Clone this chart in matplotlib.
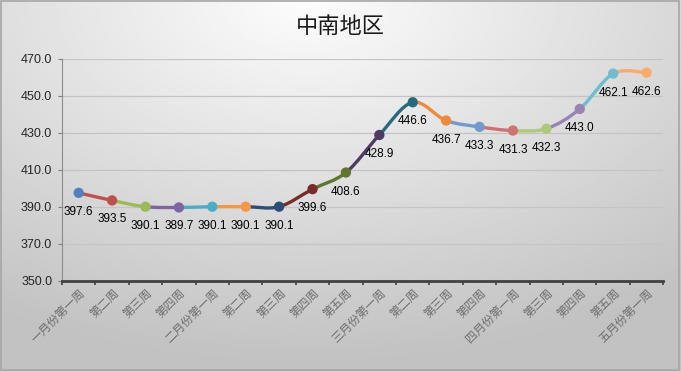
import numpy as np
import matplotlib.pyplot as plt
from matplotlib.path import Path
from matplotlib.patches import PathPatch, Rectangle

plt.rcParams['font.family'] = ['Noto Sans CJK SC', 'DejaVu Sans']

weeks = ['一月份第一周', '第二周', '第三周', '第四周', '二月份第一周', '第二周', '第三周',
         '第四周', '第五周', '三月份第一周', '第二周', '第三周', '第四周', '四月份第一周',
         '第三周', '第四周', '第五周', '五月份第一周']
values = [397.6, 393.5, 390.1, 389.7, 390.1, 390.1, 390.1, 399.6, 408.6, 428.9,
          446.6, 436.7, 433.3, 431.3, 432.3, 443.0, 462.1, 462.6]
point_colors = ['#4F81BD', '#C0504D', '#9BBB59', '#8064A2', '#4BACC6', '#F79646',
                '#2C4D75', '#772C2A', '#5F7530', '#4D3B62', '#276A7C', '#EE8A3C',
                '#729ACA', '#CD7371', '#AFC97A', '#9983B5', '#6FBDD1', '#F9AB6B']

fig = plt.figure(figsize=(6.81, 3.71), dpi=100)

# gradient background like the Excel chart area
bg = fig.add_axes([0, 0, 1, 1], zorder=-10)
gx, gy = np.meshgrid(np.linspace(0, 1, 300), np.linspace(0, 1, 200))
d = np.sqrt(((gx - 0.45) * 1.0) ** 2 + ((gy - 0.0) * 0.9) ** 2)
shade = np.clip(0.99 - 0.26 * d, 0.76, 1.0)
bg.imshow(shade, cmap='gray', vmin=0, vmax=1, extent=[0, 1, 0, 1],
          aspect='auto', origin='upper')
bg.add_patch(Rectangle((0.002, 0.003), 0.995, 0.993, fill=False,
                       ec='#A6A6A6', lw=1.2))
bg.set_xlim(0, 1)
bg.set_ylim(0, 1)
bg.axis('off')

ax = fig.add_axes([0.091, 0.243, 0.883, 0.598])
ax.patch.set_alpha(0)

x = np.arange(len(values))
y = np.array(values)

# smoothed segments (Catmull-Rom style bezier), each in the colour of its end point
for i in range(len(x) - 1):
    p0 = np.array([x[i], y[i]])
    p1 = np.array([x[i + 1], y[i + 1]])
    prev = np.array([x[i - 1], y[i - 1]]) if i > 0 else p0
    nxt = np.array([x[i + 2], y[i + 2]]) if i + 2 < len(x) else p1
    c1 = p0 + (p1 - prev) / 6
    c2 = p1 - (nxt - p0) / 6
    path = Path([p0, c1, c2, p1], [Path.MOVETO, Path.CURVE4, Path.CURVE4, Path.CURVE4])
    ax.add_patch(PathPatch(path, fill=False, ec=point_colors[i + 1], lw=2.4,
                           capstyle='round', zorder=3))

ax.scatter(x, y, s=55, c=point_colors, zorder=4, edgecolors='none')

for xi, yi in zip(x, y):
    ax.annotate(f'{yi:.1f}', (xi, yi), xytext=(0, -19), textcoords='offset pixels',
                ha='center', va='center', fontsize=8.5, color='black',
                family=['Liberation Sans', 'DejaVu Sans'], zorder=5)

ax.set_xlim(-0.5, len(values) - 0.5)
ax.set_ylim(350, 470)
ax.set_yticks(np.arange(350, 471, 20))
ax.set_yticklabels([f'{v:.1f}' for v in range(350, 471, 20)],
                   family=['Liberation Sans', 'DejaVu Sans'])
ax.tick_params(axis='y', labelsize=9, labelcolor='#262626', length=3,
               color='#7F7F7F', pad=4)
ax.grid(axis='y', color='#C4C4C4', lw=0.9)
ax.set_axisbelow(True)

ax.set_xticks(np.arange(-0.5, len(values), 1))
ax.set_xticklabels([])
ax.set_xticks(x, minor=True)
ax.set_xticklabels(weeks, minor=True, rotation=45, ha='right', va='top',
                   rotation_mode='anchor', fontsize=8.5, color='#6E6E6E')
ax.tick_params(axis='x', which='major', length=3, color='#404040', width=1.2)
ax.tick_params(axis='x', which='minor', length=0, pad=4)

for side in ['top', 'right']:
    ax.spines[side].set_visible(False)
ax.spines['left'].set_color('#8C8C8C')
ax.spines['bottom'].set_color('#404040')
ax.spines['bottom'].set_linewidth(2)

fig.text(0.5, 0.93, '中南地区', ha='center', va='center', fontsize=16, color='#1A1A1A')

fig.savefig('out.png', dpi=100)
